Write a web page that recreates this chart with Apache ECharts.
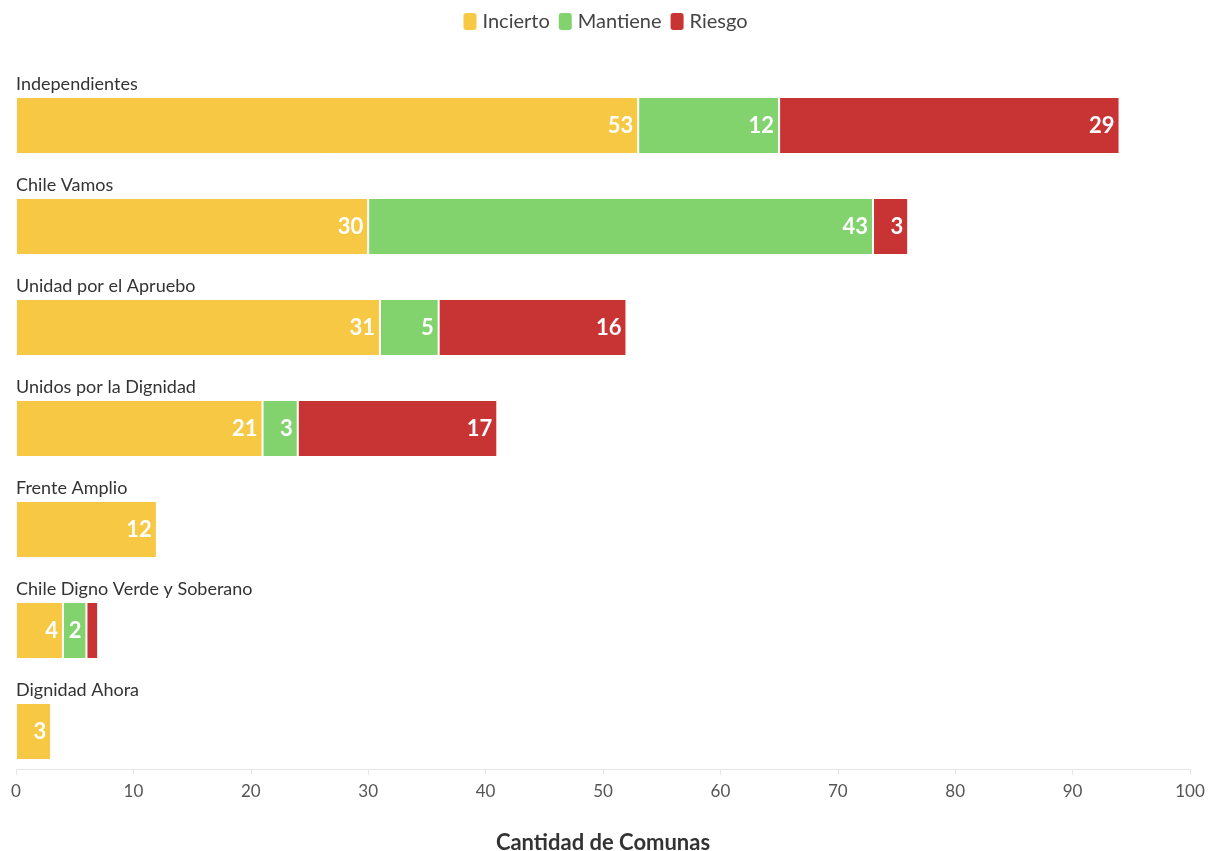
<!DOCTYPE html>
<html><head><meta charset="utf-8">
<script src="https://cdn.jsdelivr.net/npm/echarts@6/dist/echarts.min.js"></script>
<style>html,body{margin:0;padding:0;background:#fff}#c{width:1209px;height:851px}</style>
</head><body><div id="c"></div>
<script>
const categories = ["Independientes","Chile Vamos","Unidad por el Apruebo","Unidos por la Dignidad","Frente Amplio","Chile Digno Verde y Soberano","Dignidad Ahora"];
const incierto = [53,30,31,21,12,4,3];
const mantiene = [12,43,5,3,0,2,0];
const riesgo = [29,3,16,17,0,1,0];
const xTicks = [0,10,20,30,40,50,60,70,80,90,100];

const FONT = 'Lato, "Noto Sans", sans-serif';
const colors = {Incierto:'#F7C843', Mantiene:'#82D36E', Riesgo:'#C83434'};
function mk(name, data){
  return {
    name, type:'bar', stack:'t', data, barWidth:57,
    itemStyle:{color:colors[name], borderColor:'#fff', borderWidth:1},
    label:{show:true, position:'insideRight', distance:5, color:'#fff', fontWeight:'bold', fontSize:22, fontFamily:FONT,
      formatter:p=> p.value>=2 ? String(p.value) : ''}
  };
}
const chart = echarts.init(document.getElementById('c'), null, {renderer:'canvas'});
chart.setOption({
  animation:false,
  textStyle:{fontFamily:FONT},
  legend:{top:6, left:'center', itemWidth:15, itemHeight:19, itemGap:7, icon:'roundRect',
    textStyle:{fontSize:20, color:'#444', fontFamily:FONT},
    data:['Incierto','Mantiene','Riesgo']},
  grid:{left:16, right:19, top:75, height:707, outerBoundsMode:'none', containLabel:false},
  xAxis:{type:'value', min:0, max:100, interval:10, offset:-13,
    axisLine:{show:true, lineStyle:{color:'#e6e6e6'}},
    axisTick:{show:true, length:6, lineStyle:{color:'#e6e6e6'}},
    splitLine:{show:false},
    axisLabel:{color:'#555', fontSize:17, margin:14, fontFamily:FONT,
      formatter:v=> xTicks.includes(v)? String(v):''},
    name:'Cantidad de Comunas', nameLocation:'middle', nameGap:63,
    nameTextStyle:{fontSize:22, fontWeight:'bold', color:'#333', fontFamily:FONT}},
  yAxis:{type:'category', data:categories, inverse:true,
    axisLine:{show:false}, axisTick:{show:false},
    axisLabel:{inside:true, margin:0, align:'left', verticalAlign:'bottom', padding:[0,0,32,0],
      color:'#333', fontSize:18, fontFamily:FONT}},
  series:[mk('Incierto',incierto), mk('Mantiene',mantiene), mk('Riesgo',riesgo)]
});
</script></body></html>
